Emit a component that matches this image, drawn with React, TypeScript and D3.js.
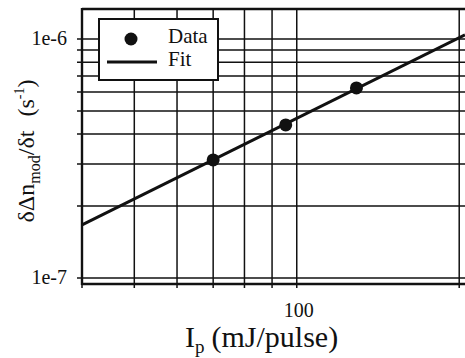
import React from 'react';
import { scaleLog, line } from 'd3';

// measured points (mJ/pulse, 1/s)
const dataX = [70, 95.4, 129];
const dataY = [3.12e-7, 4.37e-7, 6.24e-7];

// fitted power law, end points across the frame
const fitX = [40, 205];
const fitY = [1.67e-7, 1.04e-6];

const xGrid = [40, 50, 60, 70, 80, 90, 100, 200];
const yGrid = [1e-7, 2e-7, 3e-7, 4e-7, 5e-7, 6e-7, 7e-7, 8e-7, 9e-7, 1e-6];
const xTickLabels = [{ v: 100, t: '100' }];
const yTickLabels = [{ v: 1e-6, t: '1e-6' }, { v: 1e-7, t: '1e-7' }];
const legendLabels = ['Data', 'Fit'];

const font = '"Liberation Serif", "Times New Roman", serif';

export default function App() {
  const width = 465, height = 358;
  const left = 82, top = 9, bottom = 284, right = 465;

  const x = scaleLog().domain([40, 205]).range([left, right]);
  const y = scaleLog().domain([0.944e-7, 1.335e-6]).range([bottom, top]);

  const fitPts = fitX.map((v, i) => [v, fitY[i]] as [number, number]);
  const fitLine = line<[number, number]>()
    .x(d => x(d[0]))
    .y(d => y(d[1]));

  const ink = '#111';

  return (
    <svg width={width} height={height} style={{ position: 'absolute', left: 0, top: 0, background: '#fff' }}>
      <rect width={width} height={height} fill="#fff" />

      {/* grid */}
      <g stroke={ink} strokeWidth={1.5}>
        {xGrid.map(v => (
          <line key={'gx' + v} x1={x(v)} x2={x(v)} y1={top} y2={bottom + 4} />
        ))}
        {yGrid.map(v => (
          <line key={'gy' + v} x1={left - 5} x2={width + 5} y1={y(v)} y2={y(v)} />
        ))}
      </g>

      {/* frame */}
      <g stroke={ink} strokeWidth={2.4} fill="none">
        <line x1={left} x2={left} y1={top - 1} y2={bottom + 1} />
        <line x1={left} x2={width + 5} y1={top} y2={top} />
        <line x1={left} x2={width + 5} y1={bottom} y2={bottom} />
      </g>

      {/* fit line */}
      <path d={fitLine(fitPts) || ''} stroke={ink} strokeWidth={3} fill="none" />

      {/* data */}
      {dataX.map((v, i) => (
        <circle key={'p' + i} cx={x(v)} cy={y(dataY[i])} r={6.5} fill={ink} />
      ))}

      {/* tick labels */}
      <g fontFamily={font} fontSize={20} fill={ink}>
        {yTickLabels.map(d => (
          <text key={d.t} x={left - 15} y={y(d.v) + 6} textAnchor="end">{d.t}</text>
        ))}
        {xTickLabels.map(d => (
          <text key={d.t} x={x(d.v) + 2} y={317} textAnchor="middle">{d.t}</text>
        ))}
      </g>

      {/* axis titles */}
      <text x={185} y={347} fontFamily={font} fontSize={30} fill={ink}>
        I<tspan fontSize={19} dy={6}>p</tspan>
        <tspan dy={-6} dx={7}>(mJ/pulse)</tspan>
      </text>
      <text
        transform={`translate(34,151) rotate(-90)`}
        textAnchor="middle"
        fontFamily={font}
        fontSize={24}
        fill={ink}
      >
        δΔn<tspan fontSize={16} dy={6}>mod</tspan>
        <tspan dy={-6}>/δt</tspan>
        <tspan dx={14}>(s</tspan>
        <tspan fontSize={14} dy={-10}>-1</tspan>
        <tspan dy={10}>)</tspan>
      </text>

      {/* legend */}
      <g>
        <rect x={99} y={19} width={119} height={61} fill="#fff" stroke={ink} strokeWidth={2} />
        <circle cx={131} cy={39} r={6.5} fill={ink} />
        <line x1={107} x2={157} y1={62} y2={62} stroke={ink} strokeWidth={3} />
        <g fontFamily={font} fontSize={21} fill={ink}>
          <text x={168} y={43}>{legendLabels[0]}</text>
          <text x={168} y={66}>{legendLabels[1]}</text>
        </g>
      </g>
    </svg>
  );
}
